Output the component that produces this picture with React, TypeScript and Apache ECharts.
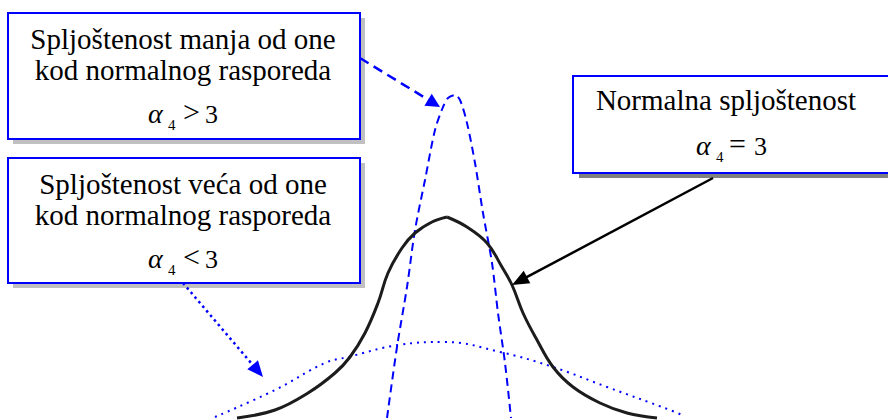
import React, { useEffect, useRef } from "react";
import * as echarts from "echarts";

// Curves (x in sigma-like units centred on the normal peak, y = height)
const normalX = [-2.1, -1.72, -1.39, -1.12, -0.97, -0.82, -0.69, -0.59, -0.45, -0.32, -0.15, 0, 0.2, 0.4, 0.55, 0.65, 0.76, 0.9, 1.06, 1.26, 1.53, 1.8, 2.1];
const normalY = [0.02, 0.1, 0.27, 0.47, 0.63, 0.87, 1.17, 1.47, 1.72, 1.87, 1.98, 2.03, 1.93, 1.77, 1.53, 1.35, 1.07, 0.8, 0.53, 0.33, 0.17, 0.07, 0.02];

const leptoX = [-0.6, -0.5, -0.4, -0.32, -0.22, -0.12, -0.04, 0.01, 0.08, 0.13, 0.2, 0.28, 0.36, 0.45, 0.51, 0.58, 0.64];
const leptoY = [0.02, 0.73, 1.33, 1.9, 2.4, 2.9, 3.13, 3.22, 3.25, 3.2, 2.97, 2.57, 2.07, 1.57, 1.07, 0.57, 0.02];

const platyX = [-2.32, -1.72, -1.22, -0.99, -0.49, -0.02, 0.53, 1.06, 1.6, 2.23, 2.35];
const platyY = [0.03, 0.3, 0.57, 0.63, 0.75, 0.78, 0.68, 0.53, 0.33, 0.1, 0.05];

const box1Lines = ["Spljoštenost manja od one", "kod normalnog rasporeda"];
const box2Lines = ["Spljoštenost veća od one", "kod normalnog rasporeda"];
const box3Lines = ["Normalna spljoštenost"];
const box1Rel = ">";
const box2Rel = "<";
const box3Rel = "=";
const alphaSymbol = "α";
const alphaIndex = "4";
const kurtosisValue = "3";

const FONT = "Liberation Serif";
const BLUE = "#0000ff";

function txt(text: string, x: number, baseline: number, size: number, align = "center", italic = false) {
  return {
    type: "text",
    x,
    y: baseline - 0.34 * size,
    z: 120,
    style: {
      text,
      fontSize: size,
      fontFamily: FONT,
      fontStyle: italic ? "italic" : "normal",
      fill: "#000",
      align,
      verticalAlign: "middle",
    },
  };
}

function alphaRow(rel: string, left: number, baseline: number, xs: number[]) {
  return [
    txt(alphaSymbol, left + xs[0], baseline, 28, "left", true),
    txt(alphaIndex, left + xs[1], baseline + 7, 15, "left"),
    txt(rel, left + xs[2], baseline - 1, 30, "left"),
    txt(kurtosisValue, left + xs[3], baseline, 26, "left"),
  ];
}

function box(x: number, y: number, w: number, h: number, shadow: string, dx: number, dy: number) {
  return [
    { type: "rect", z: 100, shape: { x: x + dx, y: y + dy, width: w, height: h }, style: { fill: shadow } },
    { type: "rect", z: 101, shape: { x, y, width: w, height: h }, style: { fill: "#fff", stroke: BLUE, lineWidth: 2 } },
  ];
}

function arrow(x1: number, y1: number, tx: number, ty: number, color: string, dash: number[] | null, len: number, half: number) {
  const vx = tx - x1;
  const vy = ty - y1;
  const L = Math.sqrt(vx * vx + vy * vy);
  const ux = vx / L;
  const uy = vy / L;
  const bx = tx - ux * len;
  const by = ty - uy * len;
  const px = -uy;
  const py = ux;
  return [
    {
      type: "line",
      z: 110,
      shape: { x1, y1, x2: bx + ux * 2, y2: by + uy * 2 },
      style: { stroke: color, lineWidth: 2.5, lineDash: dash || undefined },
    },
    {
      type: "polygon",
      z: 111,
      shape: { points: [[tx, ty], [bx + px * half, by + py * half], [bx - px * half, by - py * half]] },
      style: { fill: color },
    },
  ];
}

export default function App() {
  const ref = useRef<HTMLDivElement>(null);
  useEffect(() => {
    if (!ref.current) return;
    const chart = echarts.init(ref.current, null, { renderer: "svg" });
    const pair = (xs: number[], ys: number[]) => xs.map((x, i) => [x, ys[i]]);
    const normalPts = pair(normalX, normalY);
    const peak = normalY.indexOf(Math.max(...normalY));
    const normalStyle = { color: "#1c1c1c", width: 3 };
    const graphic: any[] = [
      ...box(8, 13, 352, 126, "#c0c0c0", 5, 5),
      ...box(8, 158, 352, 125, "#c0c0c0", 5, 5),
      ...box(573, 76, 340, 97, "#808080", 6, 5),
      txt(box1Lines[0], 183, 49, 29),
      txt(box1Lines[1], 183, 80, 29),
      ...alphaRow(box1Rel, 148, 123, [0, 20, 35, 57]),
      txt(box2Lines[0], 183, 194, 29),
      txt(box2Lines[1], 183, 225, 29),
      ...alphaRow(box2Rel, 148, 268, [0, 20, 35, 57]),
      txt(box3Lines[0], 726, 110, 29),
      ...alphaRow(box3Rel, 696, 155, [0, 20, 33, 58]),
      ...arrow(360, 58, 440, 107, BLUE, [10, 6], 14, 7),
      ...arrow(183, 283, 263, 377, BLUE, [2.5, 3.5], 16, 7),
      ...arrow(713, 178, 512, 285, "#000", null, 17, 7),
    ];
    chart.setOption({
      animation: false,
      backgroundColor: "#fff",
      grid: { left: 0, right: 0, top: 0, bottom: 0, containLabel: false },
      xAxis: { type: "value", min: -4.47, max: 4.41, show: false, splitLine: { show: false } },
      yAxis: { type: "value", min: 0, max: 4.2, show: false, splitLine: { show: false } },
      series: [
        {
          type: "line",
          data: pair(platyX, platyY),
          smooth: 0.4,
          symbol: "none",
          lineStyle: { color: BLUE, width: 2, type: [2, 5] },
          z: 3,
        },
        {
          type: "line",
          data: pair(leptoX, leptoY),
          smooth: 0.3,
          symbol: "none",
          lineStyle: { color: BLUE, width: 2, type: [8, 5] },
          z: 4,
        },
        {
          type: "line",
          data: normalPts.slice(0, peak + 1),
          smooth: 0.4,
          symbol: "none",
          lineStyle: normalStyle,
          z: 5,
        },
        {
          type: "line",
          data: normalPts.slice(peak),
          smooth: 0.4,
          symbol: "none",
          lineStyle: normalStyle,
          z: 5,
        },
      ],
      graphic,
    });
    return () => chart.dispose();
  }, []);
  return (
    <div
      ref={ref}
      style={{ position: "fixed", left: 0, top: 0, width: 888, height: 420, background: "#fff" }}
    />
  );
}
